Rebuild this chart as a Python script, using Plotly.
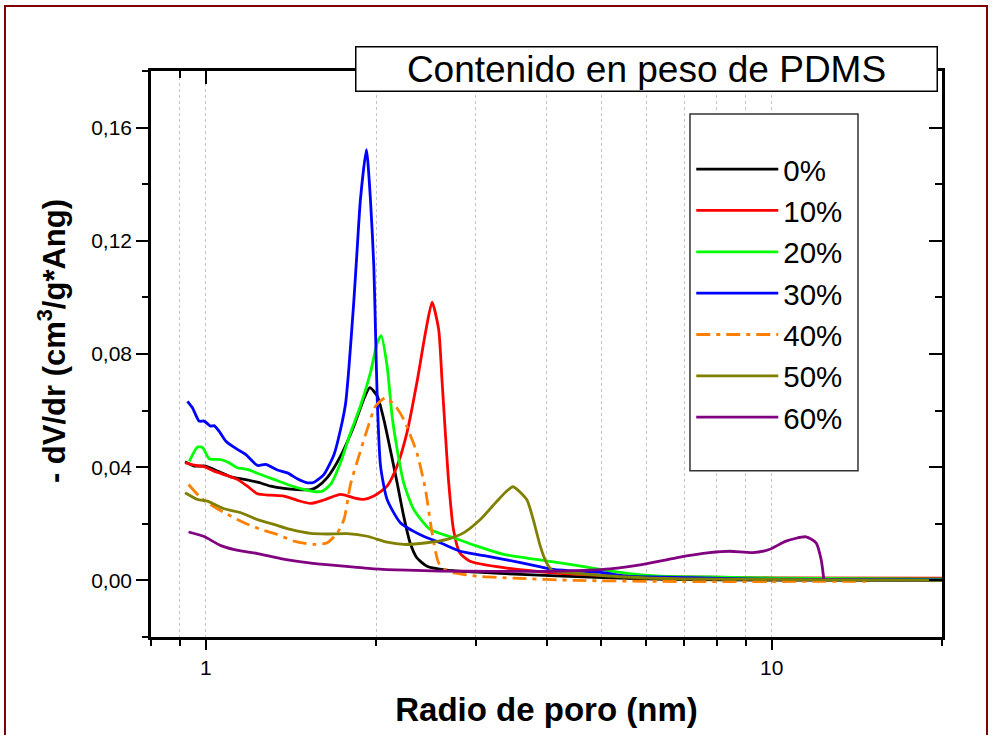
import numpy as np
import plotly.graph_objects as go

# Pore size distribution: pore radius (nm) vs -dV/dr for each PDMS weight content
r_0 = [0.919, 0.954, 1.0, 1.049, 1.107, 1.169, 1.234, 1.302, 1.374, 1.451, 1.532, 1.574,
       1.639, 1.73, 1.826, 1.9, 1.949, 2.009, 2.063, 2.118, 2.178, 2.237, 2.296, 2.36,
       2.46, 2.667, 3.015, 3.6, 5.04, 6.5, 10.0, 20.0]
v_0 = [0.0419, 0.0404, 0.0404, 0.0386, 0.0366, 0.0357, 0.0347, 0.0333, 0.0325, 0.0321, 0.0321, 0.0331,
       0.0363, 0.0439, 0.0545, 0.0639, 0.0681, 0.0651, 0.0569, 0.0463, 0.0345, 0.0227, 0.0133, 0.008,
       0.005, 0.0036, 0.0029, 0.0021, 0.001, 0.0004, 0.0001, 0.0]

r_10 = [0.919, 0.954, 0.993, 1.034, 1.092, 1.137, 1.184, 1.234, 1.302, 1.374, 1.451, 1.532,
        1.616, 1.73, 1.826, 1.9, 1.981, 2.091, 2.178, 2.267, 2.36, 2.444, 2.511, 2.579,
        2.614, 2.648, 2.684, 2.739, 2.81, 2.93, 3.36, 4.11, 5.04, 7.0, 10.0, 20.0]
v_10 = [0.0416, 0.0407, 0.0402, 0.0386, 0.037, 0.0357, 0.0333, 0.0306, 0.0301, 0.0298, 0.0283, 0.0272,
        0.0284, 0.0304, 0.0292, 0.0286, 0.0298, 0.0333, 0.0404, 0.0522, 0.0698, 0.0875, 0.0983, 0.0887,
        0.071, 0.0533, 0.0357, 0.018, 0.0098, 0.0068, 0.0045, 0.0027, 0.0018, 0.0012, 0.0009, 0.0008]

r_20 = [0.935, 0.967, 0.987, 1.014, 1.063, 1.099, 1.137, 1.184, 1.25, 1.319, 1.394, 1.471,
        1.553, 1.606, 1.661, 1.73, 1.802, 1.876, 1.954, 2.009, 2.041, 2.091, 2.134, 2.178,
        2.237, 2.33, 2.491, 2.739, 3.015, 3.36, 3.84, 4.4, 5.0, 5.55, 6.35, 7.77, 10.2, 20.0]
v_20 = [0.0421, 0.0471, 0.0469, 0.043, 0.0427, 0.0416, 0.0398, 0.0392, 0.0374, 0.0357, 0.0339, 0.0324,
        0.0314, 0.0315, 0.0339, 0.0416, 0.0522, 0.0616, 0.0734, 0.084, 0.0865, 0.0757, 0.058, 0.0463,
        0.0345, 0.0251, 0.018, 0.0151, 0.0121, 0.0092, 0.0074, 0.0057, 0.0038, 0.0025, 0.0015, 0.0012,
        0.0008, 0.0004]

r_30 = [0.928, 0.947, 0.973, 0.993, 1.02, 1.034, 1.056, 1.085, 1.137, 1.176, 1.234, 1.276,
        1.338, 1.394, 1.451, 1.511, 1.553, 1.616, 1.685, 1.73, 1.766, 1.789, 1.826, 1.851,
        1.876, 1.922, 1.954, 1.981, 1.995, 2.009, 2.036, 2.091, 2.207, 2.42, 2.595, 2.815,
        3.137, 3.598, 4.11, 5.04, 5.55, 7.24, 9.1, 20.0]
v_30 = [0.0633, 0.061, 0.0563, 0.0563, 0.0545, 0.0547, 0.0527, 0.0492, 0.0463, 0.0445, 0.0406, 0.041,
        0.039, 0.038, 0.0359, 0.0345, 0.0347, 0.0374, 0.0445, 0.0533, 0.0625, 0.0745, 0.0985, 0.1169,
        0.1346, 0.1522, 0.1346, 0.111, 0.0875, 0.0639, 0.0404, 0.0286, 0.0204, 0.0157, 0.0133, 0.0103,
        0.0086, 0.0063, 0.0039, 0.0027, 0.0015, 0.001, 0.0005, 0.0002]

r_40 = [0.932, 0.973, 1.007, 1.092, 1.169, 1.25, 1.338, 1.431, 1.553, 1.639, 1.708, 1.754,
        1.802, 1.864, 1.928, 1.995, 2.076, 2.163, 2.237, 2.36, 2.444, 2.511, 2.579, 2.667,
        3.015, 3.5, 4.5, 7.0, 10.0, 15.0]
v_40 = [0.0339, 0.0298, 0.0274, 0.0233, 0.0204, 0.018, 0.0162, 0.0139, 0.0127, 0.0133, 0.0168, 0.0215,
        0.034, 0.0439, 0.0533, 0.0616, 0.0645, 0.0616, 0.0569, 0.0451, 0.0321, 0.0168, 0.0062, 0.0033,
        0.0015, 0.0008, 0.0, -0.0004, -0.0004, -0.0003]

r_50 = [0.919, 0.967, 1.007, 1.077, 1.153, 1.234, 1.319, 1.412, 1.532, 1.639, 1.778, 1.928,
        2.091, 2.237, 2.46, 2.667, 2.854, 3.055, 3.27, 3.4, 3.49, 3.69, 3.79, 3.9,
        4.0, 4.11, 4.4, 5.5, 7.0, 20.0]
v_50 = [0.031, 0.0286, 0.028, 0.0253, 0.0239, 0.0215, 0.0198, 0.018, 0.0166, 0.0164, 0.0165, 0.0156,
        0.0135, 0.0127, 0.0133, 0.0145, 0.0168, 0.0215, 0.028, 0.0315, 0.0331, 0.0286, 0.0215, 0.0121,
        0.0062, 0.0033, 0.0027, 0.0012, 0.0005, 0.0]

r_60 = [0.932, 0.993, 1.063, 1.153, 1.234, 1.356, 1.511, 1.73, 1.981, 2.267, 2.595, 3.2,
        4.23, 5.18, 5.93, 6.78, 7.77, 8.43, 9.27, 9.9, 10.6, 11.5, 11.98, 12.23, 12.36]
v_60 = [0.0171, 0.0155, 0.0123, 0.0104, 0.0095, 0.0077, 0.0063, 0.0051, 0.0041, 0.0036, 0.0033, 0.0032,
        0.0033, 0.0041, 0.0057, 0.008, 0.0098, 0.0103, 0.0098, 0.0109, 0.0139, 0.0154, 0.0133, 0.0074,
        0.0006]

labels = ["0%", "10%", "20%", "30%", "40%", "50%", "60%"]
radii = [r_0, r_10, r_20, r_30, r_40, r_50, r_60]
values = [v_0, v_10, v_20, v_30, v_40, v_50, v_60]
colors = ["#000000", "#ff0000", "#00ff00", "#0000ff", "#ff8000", "#808000", "#800080"]
dashes = ["solid", "solid", "solid", "solid", "14px,6px,4px,6px", "solid", "solid"]

x_major = [1, 10]
x_minor = [0.8, 0.9, 2, 3, 4, 5, 6, 7, 8, 9, 20]
x_range = [np.log10(0.8), np.log10(20)]
y_range = [-0.02, 0.18]

FONT = "Arial, 'Liberation Sans', sans-serif"
GRID = "#c4c4c4"

fig = go.Figure()
for name, r, v, c, d in zip(labels, radii, values, colors, dashes):
    fig.add_trace(go.Scatter(
        x=r, y=v, name=name, mode="lines",
        line=dict(color=c, width=2.8, dash=d, shape="spline", smoothing=0.6),
    ))

# Empty traces so that the mirrored top and right axes are rendered
fig.add_trace(go.Scatter(x=[None], y=[None], xaxis="x2", yaxis="y",
                         showlegend=False, hoverinfo="skip"))
fig.add_trace(go.Scatter(x=[None], y=[None], xaxis="x", yaxis="y2",
                         showlegend=False, hoverinfo="skip"))

axis_common = dict(showline=True, linewidth=2.5, linecolor="black",
                   tickcolor="black", tickwidth=2, zeroline=False)

fig.update_layout(
    width=992, height=735,
    margin=dict(l=151, r=50, t=71, b=98),
    paper_bgcolor="white", plot_bgcolor="white",
    separators=",.",
    font=dict(family=FONT, color="black"),
    xaxis=dict(
        type="log", range=x_range, tickvals=x_major, ticktext=["1", "10"],
        ticks="outside", ticklen=10, tickfont=dict(size=21),
        showgrid=True, gridcolor=GRID, griddash="dot", gridwidth=1,
        minor=dict(tickvals=x_minor, ticks="outside", ticklen=6, tickwidth=2,
                   tickcolor="black", showgrid=True, gridcolor=GRID,
                   griddash="dot", gridwidth=1),
        title=dict(text="<b>Radio de poro (nm)</b>", font=dict(size=33), standoff=20),
        **axis_common,
    ),
    xaxis2=dict(
        type="log", range=x_range, overlaying="x", side="top", anchor="y",
        tickvals=x_major, ticks="inside", ticklen=13, showticklabels=False,
        showgrid=False,
        minor=dict(tickvals=x_minor, ticks="inside", ticklen=7, tickwidth=2,
                   tickcolor="black", showgrid=False),
        **axis_common,
    ),
    yaxis=dict(
        range=y_range, tick0=0, dtick=0.04, tickformat=".2f",
        ticks="outside", ticklen=12, tickfont=dict(size=21), showgrid=False,
        minor=dict(dtick=0.02, ticks="outside", ticklen=6, tickwidth=2,
                   tickcolor="black", showgrid=False),
        **axis_common,
    ),
    yaxis2=dict(
        range=y_range, overlaying="y", side="right", anchor="x",
        tick0=0, dtick=0.04, ticks="inside", ticklen=13, showticklabels=False,
        showgrid=False,
        minor=dict(dtick=0.02, ticks="inside", ticklen=7, tickwidth=2,
                   tickcolor="black", showgrid=False),
        **axis_common,
    ),
    legend=dict(
        x=0.683, y=0.872, xanchor="left", yanchor="top",
        font=dict(size=29.5, family=FONT), bgcolor="rgba(0,0,0,0)",
        borderwidth=0, itemwidth=82, tracegroupgap=0,
    ),
    showlegend=True,
)

# Legend frame (white panel behind the legend entries)
fig.add_shape(type="rect", xref="paper", yref="paper",
              x0=0.6814, x1=0.8938, y0=0.2938, y1=0.924,
              line=dict(color="#333333", width=1.5), fillcolor="white", layer="above")

# Outer frame of the figure
fig.add_shape(type="rect", xref="paper", yref="paper",
              x0=-0.1846, x1=1.0569, y0=-0.2, y1=1.1148,
              line=dict(color="#800000", width=2), fillcolor="rgba(0,0,0,0)", layer="above")

# Vertical y-axis title
fig.add_annotation(text="<b>- dV/dr (cm<sup>3</sup>/g*Ang)</b>", xref="paper", yref="paper",
                   x=-0.125, y=0.523, xanchor="center", yanchor="middle",
                   textangle=-90, showarrow=False, font=dict(size=31, family=FONT))

# Boxed title over the top axis
fig.add_annotation(text="Contenido en peso de PDMS", xref="paper", yref="paper",
                   x=0.6264, y=1.0027, xanchor="center", yanchor="middle",
                   showarrow=False, font=dict(size=37, family=FONT),
                   bgcolor="white", bordercolor="black", borderwidth=1.5,
                   borderpad=0, width=580, height=43)

fig.write_html("out.html")
